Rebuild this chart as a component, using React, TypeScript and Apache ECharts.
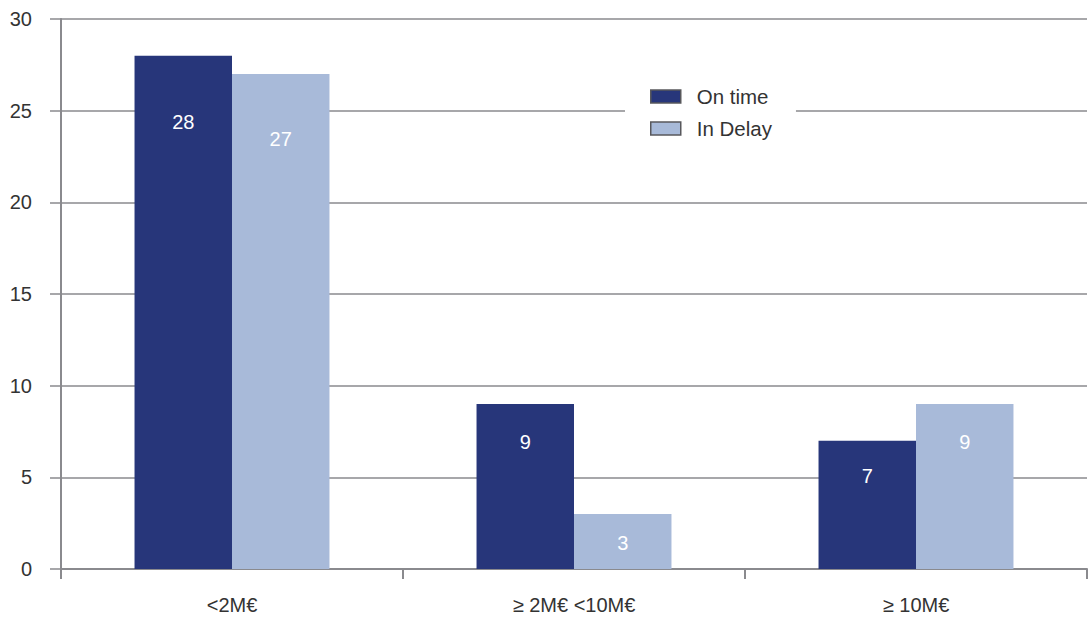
import React, { useEffect, useRef } from "react";
import * as echarts from "echarts";

const categories = ["<2M€", "≥ 2M€ <10M€", "≥ 10M€"];
const onTime = [28, 9, 7];
const inDelay = [27, 3, 9];
const seriesNames = ["On time", "In Delay"];

export default function App() {
  const ref = useRef<HTMLDivElement>(null);
  useEffect(() => {
    if (!ref.current) return;
    const chart = echarts.init(ref.current, null, { renderer: "svg" });
    const font = "'Liberation Sans', Arial, Helvetica, sans-serif";
    const gray = "#8a8a8e";
    const label = {
      show: true,
      position: "insideTop",
      distance: 28,
      color: "#ffffff",
      fontSize: 20,
      fontFamily: font,
    };
    const labelLayout = (p: any) => ({
      x: p.rect.x + p.rect.width / 2,
      y: p.rect.y + 25 + 0.08 * p.rect.height,
      align: "center",
      verticalAlign: "middle",
    });
    chart.setOption({
      animation: false,
      textStyle: { fontFamily: font },
      grid: { left: 61, right: 1, top: 19, bottom: 48, containLabel: false },
      legend: {
        orient: "vertical",
        left: 625,
        top: 74,
        padding: [12, 24, 12, 25],
        backgroundColor: "#ffffff",
        itemWidth: 30,
        itemHeight: 13,
        itemGap: 11,
        icon: "rect",
        textStyle: { fontSize: 20.5, color: "#333", fontFamily: font, padding: [0, 0, 0, 11] },
        itemStyle: { borderColor: "#58585c", borderWidth: 1.5 },
        data: seriesNames,
      },
      xAxis: {
        type: "category",
        data: categories,
        boundaryGap: true,
        axisLine: { lineStyle: { color: gray, width: 2 } },
        axisTick: { show: true, length: 10, lineStyle: { color: gray, width: 2 } },
        axisLabel: { fontSize: 20, color: "#333", margin: 26, fontFamily: font },
      },
      yAxis: {
        type: "value",
        min: 0,
        max: 30,
        interval: 5,
        axisLine: { show: true, lineStyle: { color: gray, width: 2 } },
        axisTick: { show: true, length: 11, lineStyle: { color: gray, width: 1.5 } },
        splitLine: { show: true, lineStyle: { color: gray, width: 1.5 } },
        axisLabel: { fontSize: 20, color: "#333", margin: 29, fontFamily: font },
      },
      series: [
        {
          name: seriesNames[0],
          type: "bar",
          data: onTime,
          barGap: "0%",
          barCategoryGap: "43%",
          itemStyle: { color: "#27367a" },
          label,
          labelLayout,
        },
        {
          name: seriesNames[1],
          type: "bar",
          data: inDelay,
          barGap: "0%",
          barCategoryGap: "43%",
          itemStyle: { color: "#a8bad9" },
          label,
          labelLayout,
        },
      ],
    });
    return () => chart.dispose();
  }, []);
  return <div ref={ref} style={{ width: 1088, height: 617, position: "absolute", left: 0, top: 0 }} />;
}
